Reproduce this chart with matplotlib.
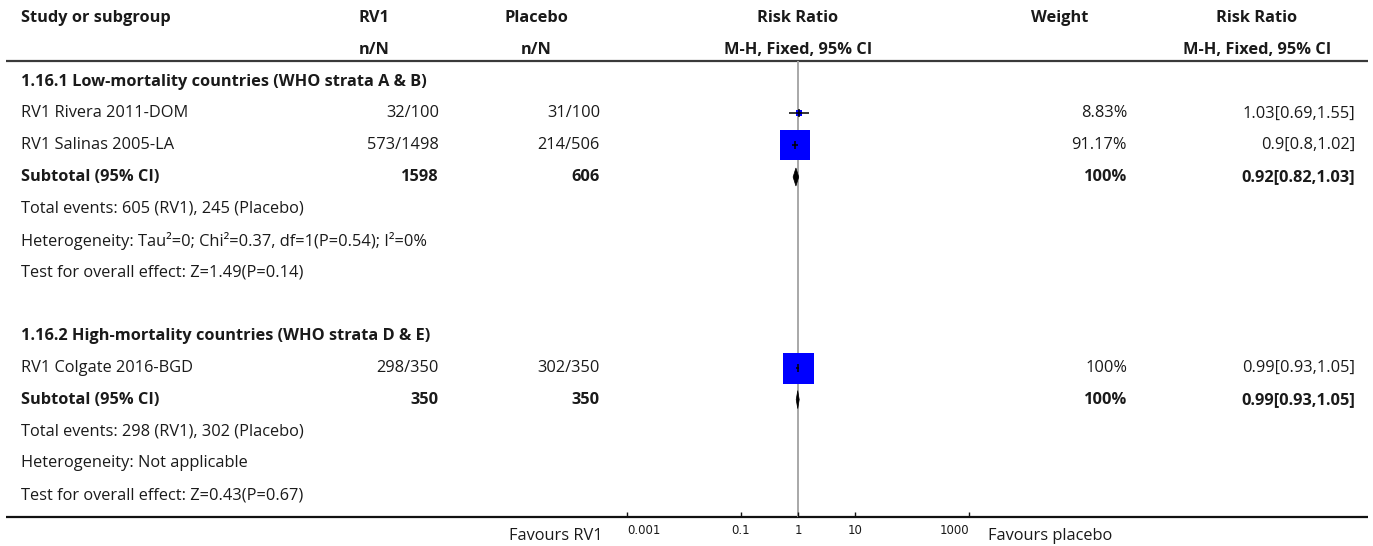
import matplotlib
matplotlib.use("Agg")
import matplotlib.pyplot as plt
from matplotlib.patches import Polygon

plt.rcParams["font.family"] = ["Open Sans", "DejaVu Sans"]

# ---------------------------------------------------------------------------
# Data
# ---------------------------------------------------------------------------
subgroups = ["1.16.1 Low-mortality countries (WHO strata A & B)",
             "1.16.2 High-mortality countries (WHO strata D & E)"]
studies = ["RV1 Rivera 2011-DOM", "RV1 Salinas 2005-LA", "RV1 Colgate 2016-BGD"]
study_group = [0, 0, 1]
rv1_events = [32, 573, 298]
rv1_total = [100, 1498, 350]
pla_events = [31, 214, 302]
pla_total = [100, 506, 350]
rr = [1.03, 0.9, 0.99]
rr_lo = [0.69, 0.8, 0.93]
rr_hi = [1.55, 1.02, 1.05]
weight = [8.83, 91.17, 100]

sub_rr = [0.92, 0.99]
sub_lo = [0.82, 0.93]
sub_hi = [1.03, 1.05]
sub_weight = [100, 100]
heterogeneity = ["Heterogeneity: Tau\u00b2=0; Chi\u00b2=0.37, df=1(P=0.54); I\u00b2=0%",
                 "Heterogeneity: Not applicable"]
overall_test = ["Test for overall effect: Z=1.49(P=0.14)",
                "Test for overall effect: Z=0.43(P=0.67)"]

tick_vals = [0.001, 0.1, 1, 10, 1000]
tick_labels = ["0.001", "0.1", "1", "10", "1000"]
left_label = "Favours RV1"
right_label = "Favours placebo"

# ---------------------------------------------------------------------------
# Layout (pixels)
# ---------------------------------------------------------------------------
W, H = 1373, 546
ROW0, STEP = 18, 31.8
X_STUDY, X_RV1, X_PLA, X_WT, X_RR = 21, 439, 600, 1127, 1355
HDR_RV1, HDR_PLA, HDR_PLOT, HDR_WT, HDR_RR = 374, 536, 798, 1060, 1257
PLOT_L, PLOT_R = 627, 969
LINE_TOP, LINE_BOT = 61, 517
FS = 11.8
TXT = "#1a1a1a"


def row_y(i):
    return ROW0 + STEP * i


def fmt(v):
    return f"{v:g}"


fig = plt.figure(figsize=(W / 100, H / 100), dpi=100)
tab = fig.add_axes([0, 0, 1, 1])
tab.set_xlim(0, W)
tab.set_ylim(H, 0)
tab.set_axis_off()

fp = fig.add_axes([PLOT_L / W, 0, (PLOT_R - PLOT_L) / W, 1])
fp.set_xscale("log")
fp.set_xlim(tick_vals[0], tick_vals[-1])
fp.set_ylim(H, 0)
fp.set_axis_off()


def put(x, y, s, ha="left", bold=False):
    tab.text(x, y, s, ha=ha, va="center", fontsize=FS, color=TXT,
             fontweight="bold" if bold else "normal")


# header
put(X_STUDY, row_y(0), "Study or subgroup", bold=True)
put(HDR_RV1, row_y(0), "RV1", ha="center", bold=True)
put(HDR_PLA, row_y(0), "Placebo", ha="center", bold=True)
put(HDR_PLOT, row_y(0), "Risk Ratio", ha="center", bold=True)
put(HDR_WT, row_y(0), "Weight", ha="center", bold=True)
put(HDR_RR, row_y(0), "Risk Ratio", ha="center", bold=True)
put(HDR_RV1, row_y(1), "n/N", ha="center", bold=True)
put(HDR_PLA, row_y(1), "n/N", ha="center", bold=True)
put(HDR_PLOT, row_y(1), "M-H, Fixed, 95% CI", ha="center", bold=True)
put(HDR_RR, row_y(1), "M-H, Fixed, 95% CI", ha="center", bold=True)
tab.hlines(LINE_TOP, 6, W - 5, color="#3a3a3a", lw=1.6)
tab.hlines(LINE_BOT, 6, W - 5, color="#111111", lw=1.6)

# reference line
fp.vlines(1, LINE_TOP, LINE_BOT, color="#a8a8a8", lw=1.4, zorder=1, clip_on=False)

row = 2
for g, name in enumerate(subgroups):
    put(X_STUDY, row_y(row), name, bold=True)
    row += 1
    idx = [i for i, sg in enumerate(study_group) if sg == g]
    for i in idx:
        y = row_y(row)
        put(X_STUDY, y, studies[i])
        put(X_RV1, y, f"{rv1_events[i]}/{rv1_total[i]}", ha="right")
        put(X_PLA, y, f"{pla_events[i]}/{pla_total[i]}", ha="right")
        put(X_WT, y, f"{fmt(weight[i])}%", ha="right")
        put(X_RR, y, f"{fmt(rr[i])}[{fmt(rr_lo[i])},{fmt(rr_hi[i])}]", ha="right")
        side_px = 31 * (weight[i] / 100) ** 0.65
        fp.plot(rr[i], y, marker="s", ms=side_px * 0.72, mew=0, color="#0000ff",
                zorder=3, clip_on=False)
        fp.hlines(y, rr_lo[i], rr_hi[i], color="black", lw=1.1, zorder=4, clip_on=False)
        fp.vlines(rr[i], y - 4, y + 4, color="black", lw=1.1, zorder=4, clip_on=False)
        row += 1
    # subtotal
    y = row_y(row)
    put(X_STUDY, y, "Subtotal (95% CI)", bold=True)
    put(X_RV1, y, str(sum(rv1_total[i] for i in idx)), ha="right", bold=True)
    put(X_PLA, y, str(sum(pla_total[i] for i in idx)), ha="right", bold=True)
    put(X_WT, y, f"{fmt(sub_weight[g])}%", ha="right", bold=True)
    put(X_RR, y, f"{fmt(sub_rr[g])}[{fmt(sub_lo[g])},{fmt(sub_hi[g])}]", ha="right", bold=True)
    fp.add_patch(Polygon([(sub_lo[g], y), (sub_rr[g], y - 9), (sub_hi[g], y), (sub_rr[g], y + 9)],
                         closed=True, facecolor="black", edgecolor="black", lw=0.5,
                         zorder=4, clip_on=False))
    row += 1
    ev_rv1 = sum(rv1_events[i] for i in idx)
    ev_pla = sum(pla_events[i] for i in idx)
    put(X_STUDY, row_y(row), f"Total events: {ev_rv1} (RV1), {ev_pla} (Placebo)")
    row += 1
    put(X_STUDY, row_y(row), heterogeneity[g])
    row += 1
    put(X_STUDY, row_y(row), overall_test[g])
    row += 2

# axis ticks and labels
fp.vlines(tick_vals, LINE_BOT - 5, LINE_BOT, color="#111111", lw=1.0, clip_on=False)
for k, (v, lab) in enumerate(zip(tick_vals, tick_labels)):
    ha = "left" if k == 0 else ("right" if k == len(tick_vals) - 1 else "center")
    fp.text(v, 530, lab, ha=ha, va="center", fontsize=8.5, family="DejaVu Sans", color=TXT)
put(PLOT_L - 24, 536, left_label, ha="right")
put(PLOT_R + 19, 536, right_label)

fig.savefig("out.png", dpi=100)
